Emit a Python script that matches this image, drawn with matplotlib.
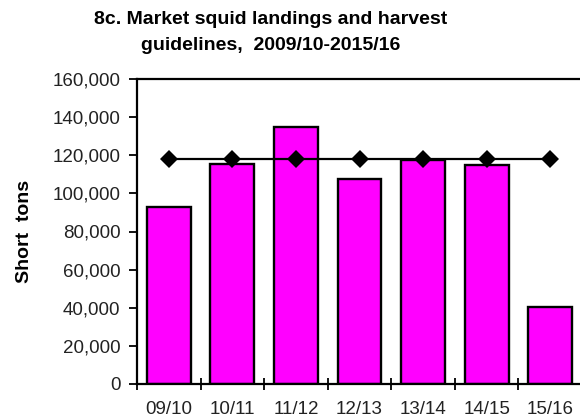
import numpy as np
import matplotlib.pyplot as plt
from matplotlib.ticker import FuncFormatter

seasons = ['09/10', '10/11', '11/12', '12/13', '13/14', '14/15', '15/16']
landings = [93000, 115500, 135000, 107300, 117300, 114700, 40500]
guideline = [118000] * 7

plt.rcParams['font.family'] = ['Liberation Sans', 'DejaVu Sans']

fig = plt.figure(figsize=(5.8, 4.2), dpi=100)
ax = fig.add_axes([137 / 580, 36 / 420, 445 / 580, 305 / 420])

x = np.arange(len(seasons))
ax.bar(x, landings, width=0.69, color='#ff00ff', edgecolor='black', linewidth=1.7, zorder=2)
ax.plot(x, guideline, color='black', linewidth=1.6, marker='D', markersize=9,
        markeredgewidth=0, zorder=3)

ax.set_xlim(-0.5, len(seasons) - 0.5)
ax.set_ylim(0, 160000)
ax.set_yticks(np.arange(0, 160001, 20000))
ax.yaxis.set_major_formatter(FuncFormatter(lambda v, p: f'{int(v):,}'))

# category labels sit between the boundary ticks
ax.set_xticks(x)
ax.set_xticklabels(seasons)
ax.set_xticks(np.arange(-0.5, len(seasons)), minor=True)
ax.tick_params(axis='x', which='major', length=0, pad=12)
ax.tick_params(axis='x', which='minor', direction='inout', length=9, width=1.3)
ax.tick_params(axis='y', direction='out', length=6, width=1.3, pad=6)
ax.tick_params(labelsize=13.5, labelcolor='#222222')

for s in ax.spines.values():
    s.set_linewidth(1.6)

ax.set_ylabel('Short  tons', fontsize=14, fontweight='bold', labelpad=14)

fig.text(271 / 580, 1 - 20 / 420, '8c. Market squid landings and harvest',
         ha='center', va='center', fontsize=14, fontweight='bold')
fig.text(271 / 580, 1 - 45 / 420, 'guidelines,  2009/10-2015/16',
         ha='center', va='center', fontsize=14, fontweight='bold')

fig.savefig('out.png', dpi=100)
